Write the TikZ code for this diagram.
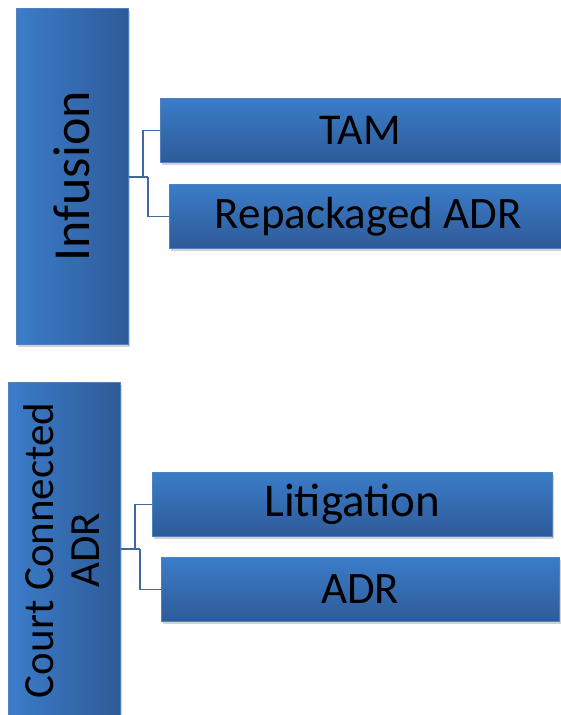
\documentclass[tikz,border=0pt]{standalone}
\usepackage{fontspec}
\setmainfont{Carlito}
\usetikzlibrary{shadows}
\definecolor{blueL}{HTML}{3B7CC9}
\definecolor{blueD}{HTML}{2E5B98}
\definecolor{edgeC}{HTML}{4F81BD}
\definecolor{lineC}{HTML}{44689E}
\tikzset{
  shadowed/.style={drop shadow={opacity=0.35,shadow xshift=1.5pt,shadow yshift=-3pt}},
  tallbox/.style={rectangle,draw=edgeC,line width=0.6pt,left color=blueL,right color=blueD,shadowed,inner sep=0pt,anchor=north west},
  subbox/.style={rectangle,draw=edgeC,line width=0.6pt,top color=blueL,bottom color=blueD,shadowed,inner sep=0pt,anchor=north west,text=black},
  conn/.style={draw=lineC,line width=1.4pt},
}
\begin{document}
\begin{tikzpicture}[x=1pt,y=-1pt]
\useasboundingbox[fill=white] (0,0) rectangle (561,715);
% Infusion group
\node[tallbox,minimum width=112pt,minimum height=336pt] (inf) at (16,8) {};
\node[rotate=90,font=\fontsize{52}{58}\selectfont] (inft) at (inf.center) {Infusion};
\node[subbox,minimum width=400pt,minimum height=64pt,font=\fontsize{44}{50}\selectfont] (tam) at (160,98) {TAM};
\node[subbox,minimum width=398pt,minimum height=64pt,font=\fontsize{45}{50}\selectfont] (rep) at (169,184) {Repackaged ADR};
\coordinate (j1) at (143,177);
\coordinate (j2) at (148,177);
\draw[conn] (inf.east |- j1) -- (j2);
\draw[conn] (j1) |- (tam.west);
\draw[conn] (j2) |- (rep.west);
% Court connected group
\node[tallbox,minimum width=112pt,minimum height=336pt] (ccr) at (8,382) {};
\node[rotate=90,align=center,font=\fontsize{43}{46}\selectfont] (ccrt) at ([xshift=-3pt]ccr.center) {Court Connected\\ADR};
\node[subbox,minimum width=400pt,minimum height=64pt,font=\fontsize{47}{52}\selectfont] (lit) at (152,472) {Litigation};
\node[subbox,minimum width=398pt,minimum height=64pt,font=\fontsize{45}{50}\selectfont] (adr) at (161,557) {ADR};
\coordinate (k1) at (135,549);
\coordinate (k2) at (140,549);
\draw[conn] (ccr.east |- k1) -- (k2);
\draw[conn] (k1) |- (lit.west);
\draw[conn] (k2) |- (adr.west);
\end{tikzpicture}
\end{document}
